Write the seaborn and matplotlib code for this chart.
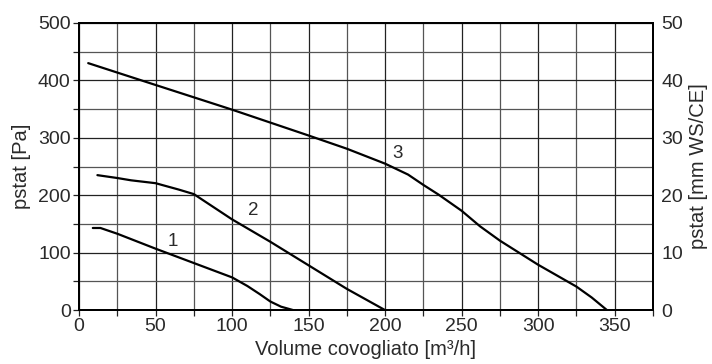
import numpy as np
import pandas as pd
import matplotlib
matplotlib.use("Agg")
import matplotlib.pyplot as plt
import seaborn as sns

# ── data ─────────────────────────────────────────────────────
curve1_x = [9, 14, 25, 50, 75, 100, 110, 118, 125, 132, 140]
curve1_y = [143, 143, 133, 107, 82, 57, 42, 28, 15, 6, 0]

curve2_x = [12, 25, 34, 50, 65, 75, 100, 125, 150, 175, 200]
curve2_y = [235, 230, 226, 221, 210, 202, 158, 119, 78, 37, 0]

curve3_x = [6, 50, 100, 150, 175, 200, 215, 225, 235, 250, 262, 275, 300, 325, 335, 345]
curve3_y = [430, 392, 349, 304, 281, 255, 236, 218, 201, 173, 146, 121, 79, 41, 22, 0]

labels = ["1", "2", "3"]
label_x = [61, 114, 208]
label_y = [120, 173, 273]

frames = []
for name, xs, ys in [("1", curve1_x, curve1_y), ("2", curve2_x, curve2_y), ("3", curve3_x, curve3_y)]:
    frames.append(pd.DataFrame({"x": xs, "y": ys, "curve": name}))
data = pd.concat(frames, ignore_index=True)

sns.set_style("white")
plt.rcParams["font.family"] = ["Liberation Sans", "DejaVu Sans"]
txt = "#2a2a2a"

fig = plt.figure(figsize=(7.12, 3.64), dpi=100)
ax = fig.add_axes([0.111, 0.148, 0.806, 0.789])

sns.lineplot(data=data, x="x", y="y", units="curve", estimator=None,
             color="black", linewidth=1.6, sort=False, ax=ax, legend=False)

for t, lx, ly in zip(labels, label_x, label_y):
    ax.text(lx, ly, t, fontsize=13.5, ha="center", va="center", color=txt)

ax.set_xlim(0, 375)
ax.set_ylim(0, 500)
ax.set_xticks(np.arange(0, 376, 50))
ax.set_xticks(np.arange(25, 376, 50), minor=True)
ax.set_yticks(np.arange(0, 501, 100))
ax.set_yticks(np.arange(50, 501, 100), minor=True)
ax.grid(which="major", color="#222222", linewidth=0.9)
ax.grid(which="minor", color="#555555", linewidth=0.9)
ax.tick_params(which="both", direction="out", length=4, width=0.9, color="#222222",
               labelsize=14, labelcolor=txt, pad=2, bottom=True, left=True)
for s in ax.spines.values():
    s.set_color("black")
    s.set_linewidth(1.4)

ax.set_xlabel("Volume covogliato [m³/h]", fontsize=14.5, color=txt, labelpad=3)
ax.set_ylabel("pstat [Pa]", fontsize=14.5, color=txt, labelpad=5)

ax2 = ax.twinx()
ax2.set_ylim(0, 50)
ax2.set_yticks(np.arange(0, 51, 10))
ax2.tick_params(which="both", direction="out", length=0, labelsize=14,
                labelcolor=txt, pad=6, right=True)
ax2.set_ylabel("pstat [mm WS/CE]", fontsize=14.5, color=txt, labelpad=4)
for s in ax2.spines.values():
    s.set_color("black")
    s.set_linewidth(1.4)

plt.savefig("out.png", dpi=100)
